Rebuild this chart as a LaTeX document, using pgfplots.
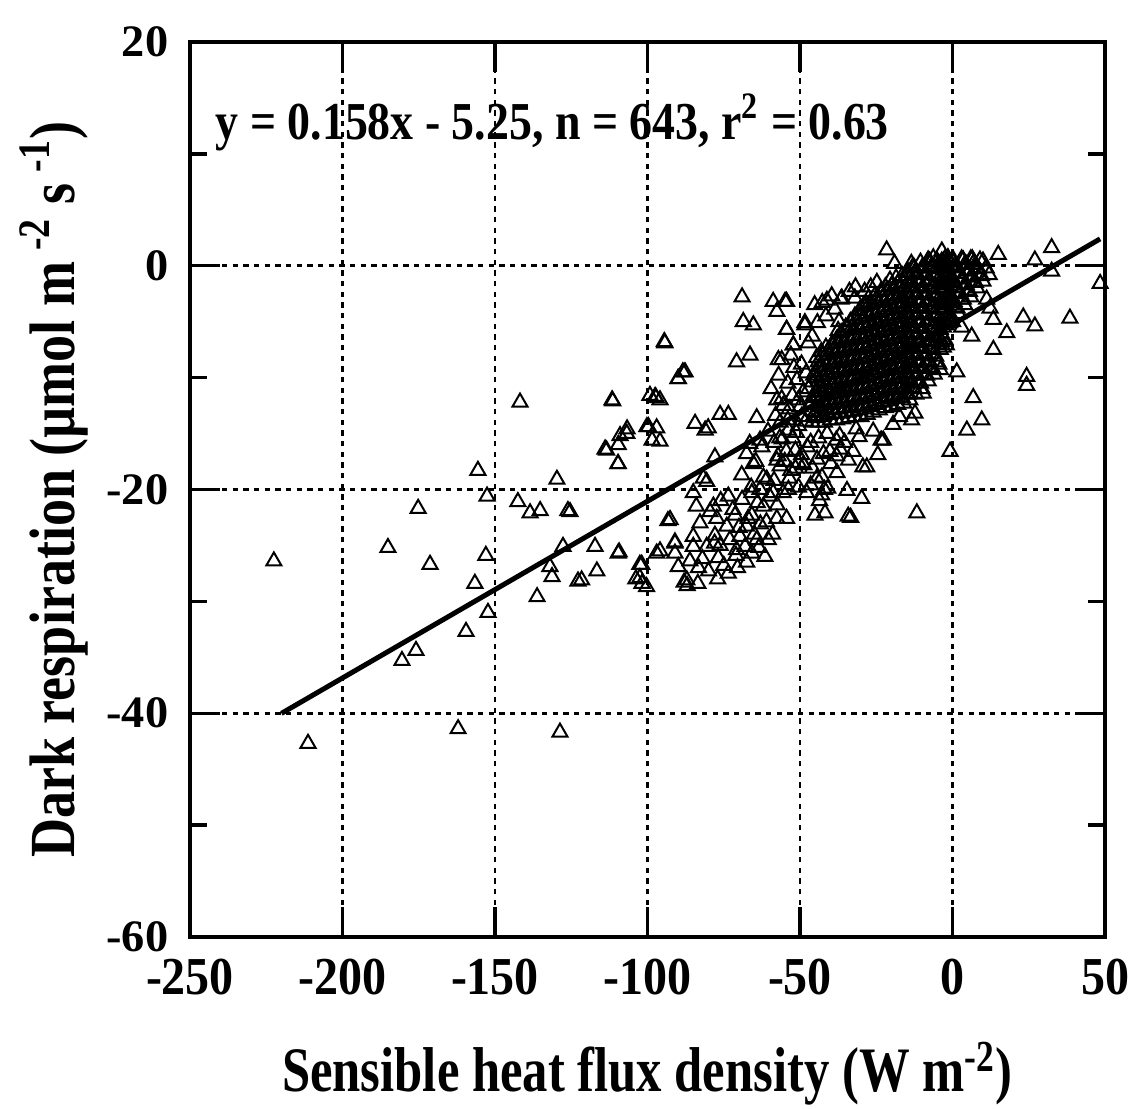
\documentclass[border=0pt]{standalone}
\usepackage{fontspec}
\setmainfont{Liberation Serif}[FakeStretch=0.88]
\newfontfamily\xtickfont{Liberation Serif}[FakeStretch=0.9]
\newfontfamily\ytickfont{Liberation Serif}[FakeStretch=1.03]
\newfontfamily\xlabfont{Liberation Serif}[FakeStretch=0.8]
\newfontfamily\ylabfont{Liberation Serif}[FakeStretch=0.84]
\newfontfamily\annfont{Liberation Serif}[FakeStretch=0.86]
\usepackage{pgfplots}
\pgfplotsset{compat=1.18}
\begin{document}
\begin{tikzpicture}
\begin{axis}[
 name=ax,
 scale only axis, width=274.5pt, height=268.5pt,
 xmin=-250, xmax=50, ymin=-60, ymax=20,
 xtick={-250,-200,...,50}, ytick={-60,-40,...,20},
 minor ytick={-50,-30,-10,10},
 tick align=inside, major tick length=9pt, minor tick length=5pt,
 axis line style={line width=1.2pt},
 every tick/.style={black, line width=1pt},
 grid=major,
 major grid style={black, line width=0.8pt, dash pattern=on 1.6pt off 1.6pt},
 /pgf/number format/assume math mode=true,
 xticklabel style={font=\fontsize{16}{18}\xtickfont\bfseries, yshift=-3pt},
 yticklabel style={font=\fontsize{13.5}{16}\ytickfont\bfseries, xshift=-3pt},
 xlabel={Sensible heat flux density (W m\textsuperscript{-2})},
 ylabel={Dark respiration (µmol m\,\textsuperscript{-2} s\,\textsuperscript{-1})},
 xlabel style={font=\fontsize{19}{22}\xlabfont\bfseries, at={(axis description cs:0.5,0)}, anchor=base, yshift=-46.5pt},
 ylabel style={font=\fontsize{19.3}{23}\ylabfont\bfseries, at={(axis description cs:-0.1257,0.5)}, anchor=base},
 clip=false,
]
\addplot[only marks, mark=triangle, mark size=2.6pt, mark options={black, line width=0.6pt, fill=none}] coordinates {
(-222.5,-26.4) (-211.3,-42.7) (-185.1,-25.2) (-180.5,-35.3) (-175.9,-34.4) (-175.2,-21.7) (-171.3,-26.7)
(-162.1,-41.4) (-159.5,-32.7) (-156.6,-28.4) (-155.6,-18.3) (-153.0,-25.9) (-152.6,-20.6) (-152.3,-31.0)
(-141.8,-12.2) (-142.5,-21.1) (-138.5,-22.1) (-136.2,-29.6) (-135.2,-21.9) (-132.0,-26.9) (-131.3,-27.8)
(-129.7,-19.1) (-128.7,-41.7) (-127.7,-25.1) (-126.1,-21.9) (-122.8,-28.2) (-125.4,-22.0)
(-117.2,-25.1) (-116.6,-27.3) (-113.9,-16.4) (-111.6,-12.0) (-109.7,-17.7) (-109.3,-25.6) (-109.0,-15.2)
(-106.7,-14.6) (-103.8,-28.0) (-102.5,-26.7) (-101.8,-28.4) (-100.2,-14.4) (-99.2,-11.6) (-98.5,-15.6)
(-97.2,-11.8) (-94.5,-6.8) (-95.9,-25.5) (-93.3,-22.8) (-91.0,-24.8) (-90.0,-10.1) (-88.4,-9.5)
(-69.0,-2.8) (-58.8,-3.2) (-54.4,-3.2) (-57.6,-4.1) (-68.6,-5.0) (-65.3,-5.3) (-54.4,-5.7) (-48.4,-5.1)
(-52.2,-7.1) (-94.3,-6.9) (-70.8,-8.6) (-66.4,-8.0) (-57.1,-8.4) (-87.7,-9.5) (-89.9,-10.1) (-97.5,-11.7)
(-95.9,-12.0) (-111.4,-12.1) (-57.6,-12.0) (-50.6,-12.0) (-76.2,-13.3) (-73.5,-13.3) (-84.4,-14.1)
(-81.1,-14.7) (-80.1,-14.5) (-64.2,-13.6) (-99.7,-14.4) (-97.0,-14.5) (-95.9,-15.7) (-106.8,-15.0)
(-109.6,-16.0) (-113.4,-16.5) (-109.6,-17.7) (-63.1,-15.6) (-56.6,-15.4) (-53.8,-14.7) (-77.9,-17.1)
(-67.5,-16.8) (-65.3,-17.7) (-81.7,-19.0) (-80.6,-19.3) (-69.1,-18.7) (-57.6,-17.4) (-85.0,-20.3)
(-73.5,-20.6) (-78.4,-21.5) (-65.8,-20.3) (-63.1,-20.0) (-60.9,-19.1) (-58.8,-20.3) (-53.8,-20.0)
(-92.6,-22.7) (-82.8,-23.0) (-77.3,-22.6) (-71.3,-22.3) (-65.8,-22.3) (-62.0,-21.5) (-57.6,-22.6)
(-54.4,-22.6) (-91.0,-24.7) (-85.0,-24.2) (-77.9,-24.1) (-74.0,-23.3) (-69.7,-24.2) (-67.5,-23.3)
(-64.2,-24.5) (-60.4,-24.5) (-109.6,-25.7) (-97.0,-25.7) (-91.0,-25.7) (-85.0,-25.1) (-80.6,-25.1)
(-76.2,-25.0) (-70.8,-25.4) (-65.8,-25.7) (-101.9,-26.7) (-89.9,-26.9) (-86.1,-26.4) (-76.8,-26.1)
(-102.5,-27.9) (-100.3,-28.7) (-87.1,-28.1) (-83.3,-27.0) (-121.6,-28.1)
(-84.0,-21.5) (-82.0,-26.2) (-79.5,-22.0) (-78.0,-24.8) (-76.0,-21.0) (-75.0,-26.8) (-73.0,-24.5)
(-72.0,-21.8) (-71.0,-25.9) (-70.0,-23.4) (-69.0,-20.9) (-68.0,-25.1) (-67.0,-22.6) (-66.0,-19.8)
(-65.0,-24.0) (-64.0,-21.2) (-63.0,-23.1) (-62.0,-18.9) (-61.0,-22.9) (-60.0,-20.6) (-59.0,-24.0)
(-58.5,-19.2) (-57.5,-21.4) (-56.5,-17.9) (-55.5,-20.3) (-54.5,-16.6) (-53.5,-19.0) (-52.5,-15.4)
(-51.5,-18.1) (-50.5,-14.3) (-49.5,-16.9) (-62.5,-16.2) (-64.5,-17.5) (-66.5,-15.9) (-60.5,-14.8)
(-58.0,-13.4) (-56.0,-11.9) (-54.0,-10.5) (-52.0,-9.1) (-50.0,-12.6) (-61.5,-26.0) (-63.5,-25.2)
(-67.5,-26.5) (-70.5,-27.0) (-73.5,-27.5) (-77.0,-28.0) (-80.0,-27.3) (-83.5,-28.4) (-87.0,-28.6) (-88.0,-28.3)
(-53.5,-12.8) (-51.2,-14.9) (-49.0,-11.3) (-48.2,-13.9) (-50.5,-17.6) (-46.5,-15.8)
(-55.8,-15.5) (-57.2,-17.0) (-53.0,-18.3) (-49.5,-8.8)
(-59.5,-11.0) (-58.5,-15.8) (-57.0,-9.8) (-56.5,-14.0) (-55.5,-12.5) (-55.0,-17.5) (-54.0,-13.8)
(-53.0,-8.0) (-52.5,-11.6) (-51.5,-16.5) (-51.0,-10.2) (-50.5,-19.8) (-49.5,-13.5) (-48.8,-17.8)
(-48.0,-9.6) (-47.2,-11.0) (-47.3,-6.9) (-46.8,-12.4) (-47.6,-16.2) (-46.5,-19.6) (-47.8,-20.3)
(-54.9,-3.2) (-41.2,-3.1) (-36.3,-2.9) (-32.0,-2.9) (-48.4,-5.3) (-54.4,-5.7) (-52.2,-7.1) (-56.0,-8.4)
(-45.2,-3.5) (-42.7,-3.3) (-39.6,-2.7) (-36.6,-3.0) (-33.8,-2.3) (-31.8,-1.9) (-44.3,-5.1) (-41.5,-4.5)
(-38.6,-3.9) (-37.2,-5.0) (-28.8,-2.3) (-26.8,-1.9) (-24.8,-1.5) (-46.0,-6.3) (-21.6,1.4) (-19.0,0.2)
(-45.9,-18.1) (-45.1,-22.3) (-43.9,-15.4) (-44.4,-17.3) (-43.6,-21.0) (-42.3,-16.8) (-42.8,-18.9)
(-41.1,-15.0) (-40.9,-19.9) (-39.9,-17.7) (-38.1,-15.6) (-37.9,-18.5) (-36.9,-16.4) (-35.4,-15.8)
(-34.6,-20.1) (-34.1,-17.4) (-32.6,-16.6) (-33.4,-22.5) (-31.6,-14.6) (-30.6,-15.3) (-29.4,-18.0)
(-23.4,-15.6) (-22.7,-15.6) (-28.1,-18.0) (-29.8,-20.8) (-41.8,-22.1) (-34.2,-22.4) (-11.7,-22.1)
(-42.9,-20.5) (-12.3,-13.2) (-13.4,-13.8) (-17.4,-13.5) (-44.5,-19.0) (-42.0,-20.0) (-40.2,-16.6)
(-38.0,-17.0) (-37.0,-15.2) (-48.8,-17.8) (-26.0,-14.8) (-19.5,-14.2) (-9.6,-11.4) (-24.5,-16.9)
(-46,-14.0) (-46,-12.2) (-46,-10.4)
(-45,-13.1) (-45,-11.3) (-45,-9.5)
(-44,-14.0) (-44,-12.2) (-44,-10.4) (-44,-8.6)
(-43,-13.1) (-43,-11.3) (-43,-9.5) (-43,-7.7)
(-42,-14.0) (-42,-12.2) (-42,-10.4) (-42,-8.6)
(-41,-13.1) (-41,-11.3) (-41,-9.5) (-41,-7.7)
(-40,-13.8) (-40,-12.0) (-40,-10.2) (-40,-8.4)
(-39,-12.9) (-39,-11.1) (-39,-9.3) (-39,-7.5)
(-38,-13.8) (-38,-12.0) (-38,-10.2) (-38,-8.4) (-38,-6.6)
(-37,-12.8) (-37,-11.0) (-37,-9.2) (-37,-7.4)
(-36,-13.7) (-36,-11.9) (-36,-10.1) (-36,-8.3) (-36,-6.5)
(-35,-12.7) (-35,-10.9) (-35,-9.1) (-35,-7.3) (-35,-5.5)
(-34,-13.6) (-34,-11.8) (-34,-10.0) (-34,-8.2) (-34,-6.4)
(-33,-12.7) (-33,-10.9) (-33,-9.1) (-33,-7.3) (-33,-5.5)
(-32,-13.5) (-32,-11.7) (-32,-9.9) (-32,-8.1) (-32,-6.3) (-32,-4.5)
(-31,-12.6) (-31,-10.8) (-31,-9.0) (-31,-7.2) (-31,-5.4)
(-30,-13.5) (-30,-11.7) (-30,-9.9) (-30,-8.1) (-30,-6.3) (-30,-4.5)
(-29,-12.5) (-29,-10.7) (-29,-8.9) (-29,-7.1) (-29,-5.3) (-29,-3.5)
(-28,-13.3) (-28,-11.5) (-28,-9.7) (-28,-7.9) (-28,-6.1) (-28,-4.3)
(-27,-12.3) (-27,-10.5) (-27,-8.7) (-27,-6.9) (-27,-5.1) (-27,-3.3)
(-26,-13.1) (-26,-11.3) (-26,-9.5) (-26,-7.7) (-26,-5.9) (-26,-4.1)
(-25,-12.1) (-25,-10.3) (-25,-8.5) (-25,-6.7) (-25,-4.9) (-25,-3.1)
(-24,-12.9) (-24,-11.1) (-24,-9.3) (-24,-7.5) (-24,-5.7) (-24,-3.9)
(-23,-11.9) (-23,-10.1) (-23,-8.3) (-23,-6.5) (-23,-4.7) (-23,-2.9)
(-22,-12.7) (-22,-10.9) (-22,-9.1) (-22,-7.3) (-22,-5.5) (-22,-3.7) (-22,-1.9)
(-21,-11.7) (-21,-9.9) (-21,-8.1) (-21,-6.3) (-21,-4.5) (-21,-2.7)
(-20,-12.6) (-20,-10.8) (-20,-9.0) (-20,-7.2) (-20,-5.4) (-20,-3.6) (-20,-1.8)
(-19,-11.6) (-19,-9.8) (-19,-8.0) (-19,-6.2) (-19,-4.4) (-19,-2.6)
(-18,-12.4) (-18,-10.6) (-18,-8.8) (-18,-7.0) (-18,-5.2) (-18,-3.4) (-18,-1.6)
(-17,-11.5) (-17,-9.7) (-17,-7.9) (-17,-6.1) (-17,-4.3) (-17,-2.5)
(-16,-12.3) (-16,-10.5) (-16,-8.7) (-16,-6.9) (-16,-5.1) (-16,-3.3) (-16,-1.5)
(-15,-11.4) (-15,-9.6) (-15,-7.8) (-15,-6.0) (-15,-4.2) (-15,-2.4) (-15,-0.6)
(-14,-12.0) (-14,-10.2) (-14,-8.4) (-14,-6.6) (-14,-4.8) (-14,-3.0) (-14,-1.2)
(-13,-10.9) (-13,-9.1) (-13,-7.3) (-13,-5.5) (-13,-3.7) (-13,-1.9) (-13,-0.1)
(-12,-11.5) (-12,-9.7) (-12,-7.9) (-12,-6.1) (-12,-4.3) (-12,-2.5) (-12,-0.7)
(-11,-10.3) (-11,-8.5) (-11,-6.7) (-11,-4.9) (-11,-3.1) (-11,-1.3)
(-10,-11.0) (-10,-9.2) (-10,-7.4) (-10,-5.6) (-10,-3.8) (-10,-2.0) (-10,-0.2)
(-9,-9.7) (-9,-7.9) (-9,-6.1) (-9,-4.3) (-9,-2.5) (-9,-0.7)
(-8,-10.3) (-8,-8.5) (-8,-6.7) (-8,-4.9) (-8,-3.1) (-8,-1.3) (-8,0.5)
(-7,-9.1) (-7,-7.3) (-7,-5.5) (-7,-3.7) (-7,-1.9) (-7,-0.1)
(-6,-9.7) (-6,-7.9) (-6,-6.1) (-6,-4.3) (-6,-2.5) (-6,-0.7)
(-5,-8.6) (-5,-6.8) (-5,-5.0) (-5,-3.2) (-5,-1.4) (-5,0.4)
(-4,-9.3) (-4,-7.5) (-4,-5.7) (-4,-3.9) (-4,-2.1) (-4,-0.3)
(-3,-7.3) (-3,-5.5) (-3,-3.7) (-3,-1.9) (-3,-0.1)
(-2,-7.1) (-2,-5.3) (-2,-3.5) (-2,-1.7) (-2,0.1)
(-1,-5.1) (-1,-3.3) (-1,-1.5) (-1,0.3)
(0,-5.0) (0,-3.2) (0,-1.4) (0,0.4)
(1,-3.7) (1,-1.9) (1,-0.1)
(2,-4.3) (2,-2.5) (2,-0.7)
(3,-3.0) (3,-1.2) (3,0.6)
(4,-3.5) (4,-1.7) (4,0.1)
(5,-2.2) (5,-0.4)
(6,-2.8) (6,-1.0) (6,0.6)
(7,-1.5) (7,0.3)
(8,-2.0) (8,-0.2)
(9,-0.8) (9,0.5)
(10,-1.4) (10,0.4)
(11,-0.2) (12,-0.8)
(-45.5,-13.4) (-45.5,-11.6) (-45.5,-9.8)
(-44.5,-13.6) (-44.5,-11.8) (-44.5,-10.0) (-44.5,-8.2)
(-43.5,-12.6) (-43.5,-10.8) (-43.5,-9.0)
(-42.5,-13.5) (-42.5,-11.6) (-42.5,-9.9) (-42.5,-8.0)
(-41.5,-12.7) (-41.5,-10.9) (-41.5,-9.0) (-41.5,-7.3)
(-40.5,-13.3) (-40.5,-11.5) (-40.5,-9.7) (-40.5,-7.9)
(-39.5,-12.4) (-39.5,-10.6) (-39.5,-8.8) (-39.5,-7.0)
(-38.5,-13.2) (-38.5,-11.4) (-38.5,-9.6) (-38.5,-7.8)
(-37.5,-12.3) (-37.5,-10.5) (-37.5,-8.7) (-37.5,-6.9) (-37.5,-5.8)
(-36.5,-13.2) (-36.5,-11.3) (-36.5,-9.5) (-36.5,-7.7) (-36.5,-6.0)
(-35.5,-12.2) (-35.5,-10.4) (-35.5,-8.6) (-35.5,-6.8)
(-34.5,-13.1) (-34.5,-11.2) (-34.5,-9.4) (-34.5,-7.6) (-34.5,-5.6)
(-33.5,-12.1) (-33.5,-10.3) (-33.5,-8.5) (-33.5,-6.7) (-33.5,-5.0)
(-32.5,-13.0) (-32.5,-11.1) (-32.5,-9.3) (-32.5,-7.5) (-32.5,-5.7)
(-31.5,-12.0) (-31.5,-10.2) (-31.5,-8.4) (-31.5,-6.6) (-31.5,-4.8)
(-30.5,-12.9) (-30.5,-11.1) (-30.5,-9.3) (-30.5,-7.5) (-30.5,-5.7) (-30.5,-4.0)
(-29.5,-11.9) (-29.5,-10.1) (-29.5,-8.3) (-29.5,-6.5) (-29.5,-4.7)
(-28.5,-12.8) (-28.5,-11.0) (-28.5,-9.2) (-28.5,-7.4) (-28.5,-5.6) (-28.5,-3.6)
(-27.5,-11.8) (-27.5,-10.0) (-27.5,-8.2) (-27.5,-6.4) (-27.5,-4.6) (-27.5,-2.9)
(-26.5,-12.6) (-26.5,-10.8) (-26.5,-9.0) (-26.5,-7.2) (-26.5,-5.4) (-26.5,-3.5)
(-25.5,-11.6) (-25.5,-9.8) (-25.5,-8.0) (-25.5,-6.2) (-25.5,-4.4) (-25.5,-2.7)
(-24.5,-12.4) (-24.5,-10.6) (-24.5,-8.8) (-24.5,-7.0) (-24.5,-5.2) (-24.5,-3.3)
(-23.5,-11.4) (-23.5,-9.6) (-23.5,-7.8) (-23.5,-6.0) (-23.5,-4.2) (-23.5,-2.3)
(-22.5,-12.2) (-22.5,-10.4) (-22.5,-8.6) (-22.5,-6.8) (-22.5,-5.0) (-22.5,-3.2)
(-21.5,-11.2) (-21.5,-9.4) (-21.5,-7.6) (-21.5,-5.8) (-21.5,-4.0) (-21.5,-2.2)
(-20.5,-12.1) (-20.5,-10.3) (-20.5,-8.5) (-20.5,-6.7) (-20.5,-4.9) (-20.5,-3.1) (-20.5,-1.3)
(-19.5,-11.1) (-19.5,-9.3) (-19.5,-7.5) (-19.5,-5.7) (-19.5,-3.9) (-19.5,-2.1)
(-18.5,-11.9) (-18.5,-10.1) (-18.5,-8.3) (-18.5,-6.5) (-18.5,-4.7) (-18.5,-2.9) (-18.5,-1.1)
(-17.5,-11.0) (-17.5,-9.2) (-17.5,-7.4) (-17.5,-5.6) (-17.5,-3.8) (-17.5,-2.0)
(-16.5,-11.8) (-16.5,-10.0) (-16.5,-8.2) (-16.5,-6.4) (-16.5,-4.6) (-16.5,-2.8) (-16.5,-0.9)
(-15.5,-10.9) (-15.5,-9.1) (-15.5,-7.3) (-15.5,-5.5) (-15.5,-3.7) (-15.5,-1.9)
(-14.5,-11.5) (-14.5,-9.7) (-14.5,-7.9) (-14.5,-6.1) (-14.5,-4.3) (-14.5,-2.5) (-14.5,-0.6)
(-13.5,-10.4) (-13.5,-8.6) (-13.5,-6.8) (-13.5,-5.0) (-13.5,-3.2) (-13.5,-1.4) (-13.5,0.2)
(-12.5,-11.0) (-12.5,-9.2) (-12.5,-7.4) (-12.5,-5.6) (-12.5,-3.8) (-12.5,-2.0) (-12.5,-0.2)
(-11.5,-9.8) (-11.5,-8.0) (-11.5,-6.2) (-11.5,-4.4) (-11.5,-2.6) (-11.5,-0.8)
(-10.5,-10.5) (-10.5,-8.7) (-10.5,-6.9) (-10.5,-5.1) (-10.5,-3.3) (-10.5,-1.5) (-10.5,0.3)
(-9.5,-9.2) (-9.5,-7.4) (-9.5,-5.6) (-9.5,-3.8) (-9.5,-2.0) (-9.5,-0.2)
(-8.5,-9.8) (-8.5,-8.0) (-8.5,-6.2) (-8.5,-4.4) (-8.5,-2.6) (-8.5,-0.8)
(-7.5,-8.6) (-7.5,-6.8) (-7.5,-5.0) (-7.5,-3.2) (-7.5,-1.4) (-7.5,0.4)
(-6.5,-9.2) (-6.5,-7.4) (-6.5,-5.6) (-6.5,-3.8) (-6.5,-2.0) (-6.5,-0.2)
(-5.5,-8.1) (-5.5,-6.3) (-5.5,-4.5) (-5.5,-2.7) (-5.5,-0.9)
(-4.5,-8.8) (-4.5,-7.0) (-4.5,-5.2) (-4.5,-3.4) (-4.5,-1.6) (-4.5,0.2)
(-3.5,-6.8) (-3.5,-5.0) (-3.5,-3.2) (-3.5,-1.4) (-3.5,0.4)
(-2.5,-6.6) (-2.5,-4.8) (-2.5,-3.0) (-2.5,-1.2) (-2.5,0.6)
(-1.5,-4.6) (-1.5,-2.8) (-1.5,-1.0) (-1.5,0.7)
(-0.5,-4.5) (-0.5,-2.7) (-0.5,-0.9)
(0.5,-3.2) (0.5,-1.4) (0.5,0.4)
(1.5,-3.8) (1.5,-2.0) (1.5,-0.2)
(2.5,-2.5) (2.5,-0.7)
(3.5,-3.0) (3.5,-1.2) (3.5,0.5)
(4.5,-1.7) (4.5,0.1) (5.5,-2.3) (5.5,-0.5) (6.5,-1.0) (6.5,0.6) (7.5,-1.5) (7.5,0.1) (8.5,-0.3) (9.5,-0.9)
(12.3,-3.8) (13.4,-4.8) (15.0,1.0) (17.8,-6.0) (13.4,-7.5) (23.2,-4.6) (27.0,-5.4)
(6.3,-6.3) (1.4,-9.5) (3.0,-5.5) (11.2,-3.0)
(38.5,-4.7) (24.3,-9.9) (24.3,-10.7) (6.8,-11.8) (9.6,-13.8) (4.7,-14.7) (-0.8,-16.6) (32.5,1.6)
(27.0,0.5) (32.5,-0.5) (48.4,-1.6) (-3.5,1.3) (-6.3,0.7)
};
\addplot[black, line width=1.5pt] coordinates {(-220,-40.01) (48.4,2.40)};
\node[anchor=base west, font=\fontsize{16}{19}\annfont\bfseries, inner sep=0pt] at (axis cs:-241.8,11.3) {y = 0.158x - 5.25, n = 643, r\textsuperscript{2} = 0.63};
\end{axis}
\pgfresetboundingbox
\path[use as bounding box] ([shift={(-57pt,-51.6pt)}]ax.south west) rectangle ([shift={(11.1pt,12.6pt)}]ax.north east);
\end{tikzpicture}
\end{document}
